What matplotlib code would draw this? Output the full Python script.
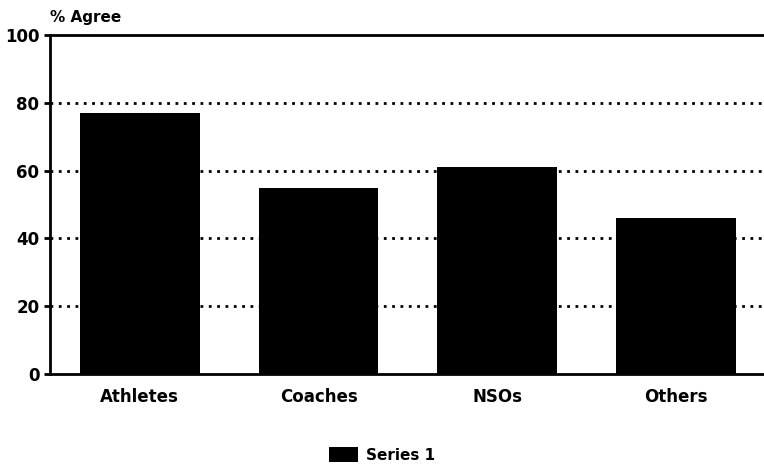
import matplotlib
matplotlib.use("Agg")
import matplotlib.pyplot as plt
from matplotlib.patches import Patch

categories = ["Athletes", "Coaches", "NSOs", "Others"]
agree_pct = [77, 55, 61, 46]
y_ticks = [0, 20, 40, 60, 80, 100]
series_name = "Series 1"

plt.rcParams["font.family"] = ["DejaVu Sans"]
plt.rcParams["font.weight"] = "bold"

fig = plt.figure(figsize=(7.64, 4.74), dpi=100)
ax = fig.add_axes([0.066, 0.211, 0.936, 0.715])

x = range(len(categories))
ax.bar(x, agree_pct, width=0.67, color="black", zorder=3)

ax.set_xlim(-0.5, 3.5)
ax.set_ylim(0, 100)
ax.set_yticks(y_ticks)
ax.set_yticklabels([str(v) for v in y_ticks], fontsize=12, fontweight="bold")
ax.set_xticks(list(x))
ax.set_xticklabels(categories, fontsize=12, fontweight="bold")

for v in y_ticks[1:-1]:
    ax.axhline(v, color="black", linestyle=(0, (1, 2)), linewidth=2.0, zorder=1)

ax.tick_params(axis="y", length=4, width=2, pad=4)
ax.tick_params(axis="x", length=0, pad=10)
for side in ("left", "top", "bottom"):
    ax.spines[side].set_linewidth(2)
ax.spines["right"].set_visible(False)

ax.text(0.0, 1.03, "% Agree", transform=ax.transAxes, fontsize=11,
        fontweight="bold", ha="left", va="bottom")

fig.legend(handles=[Patch(facecolor="black", label=series_name)],
           loc="center", bbox_to_anchor=(0.5, 0.04), frameon=False,
           fontsize=11, handlelength=1.9, handleheight=1.1, handletextpad=0.5)

fig.savefig("out.png", dpi=100, facecolor="white")
